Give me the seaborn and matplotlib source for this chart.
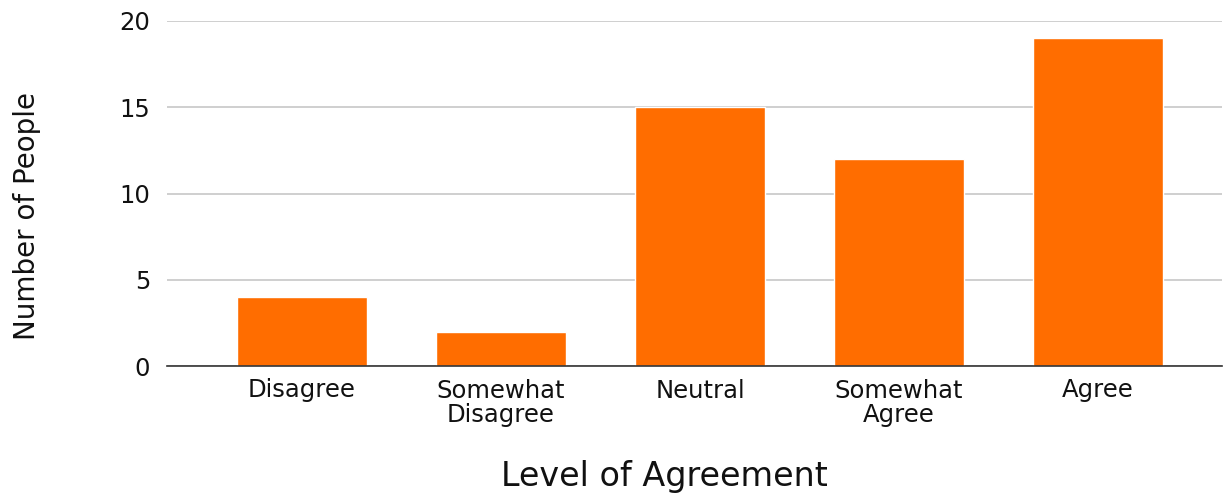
import matplotlib
matplotlib.use("Agg")
import matplotlib.pyplot as plt
import seaborn as sns
import pandas as pd

categories = ["Disagree", "Somewhat\nDisagree", "Neutral", "Somewhat\nAgree", "Agree"]
counts = [4, 2, 15, 12, 19]
yticks = [0, 5, 10, 15, 20]

sns.set_theme(style="white")
plt.rcParams['font.family'] = ['DejaVu Sans']

df = pd.DataFrame({"Level": categories, "Count": counts})

fig = plt.figure(figsize=(12.23, 4.96), dpi=100)
ax = fig.add_axes([167/1223, 1 - 366/496, (1222 - 167)/1223, (366 - 21)/496])

sns.barplot(data=df, x="Level", y="Count", color="#FF6D00", saturation=1,
            width=0.65, ax=ax, zorder=3)

ax.set_xlim(-0.678, 4.623)
ax.set_ylim(0, 20)
ax.set_yticks(yticks)
ax.yaxis.grid(True, color="#cccccc", linewidth=1.3, zorder=0)
ax.xaxis.grid(False)
for s in ["top", "right", "left"]:
    ax.spines[s].set_visible(False)
ax.spines["bottom"].set_color("#333333")
ax.spines["bottom"].set_linewidth(1.2)
ax.spines["bottom"].set_zorder(4)

ax.tick_params(axis="y", length=0, pad=12, labelsize=17.5, labelcolor="#111111")
ax.tick_params(axis="x", length=0, pad=9, labelsize=17.5, labelcolor="#111111")
for lbl in ax.get_xticklabels():
    lbl.set_linespacing(1.02)

ax.set_xlabel("Level of Agreement", fontsize=24, color="#111111")
ax.set_ylabel("Number of People", fontsize=20, color="#111111")
ax.xaxis.set_label_coords(0.471, -0.319)
ax.yaxis.set_label_coords(-0.1327, 0.435)
ax.xaxis.label.set_verticalalignment("center")
ax.yaxis.label.set_verticalalignment("center")

fig.savefig("out.png", dpi=100, facecolor="white")
